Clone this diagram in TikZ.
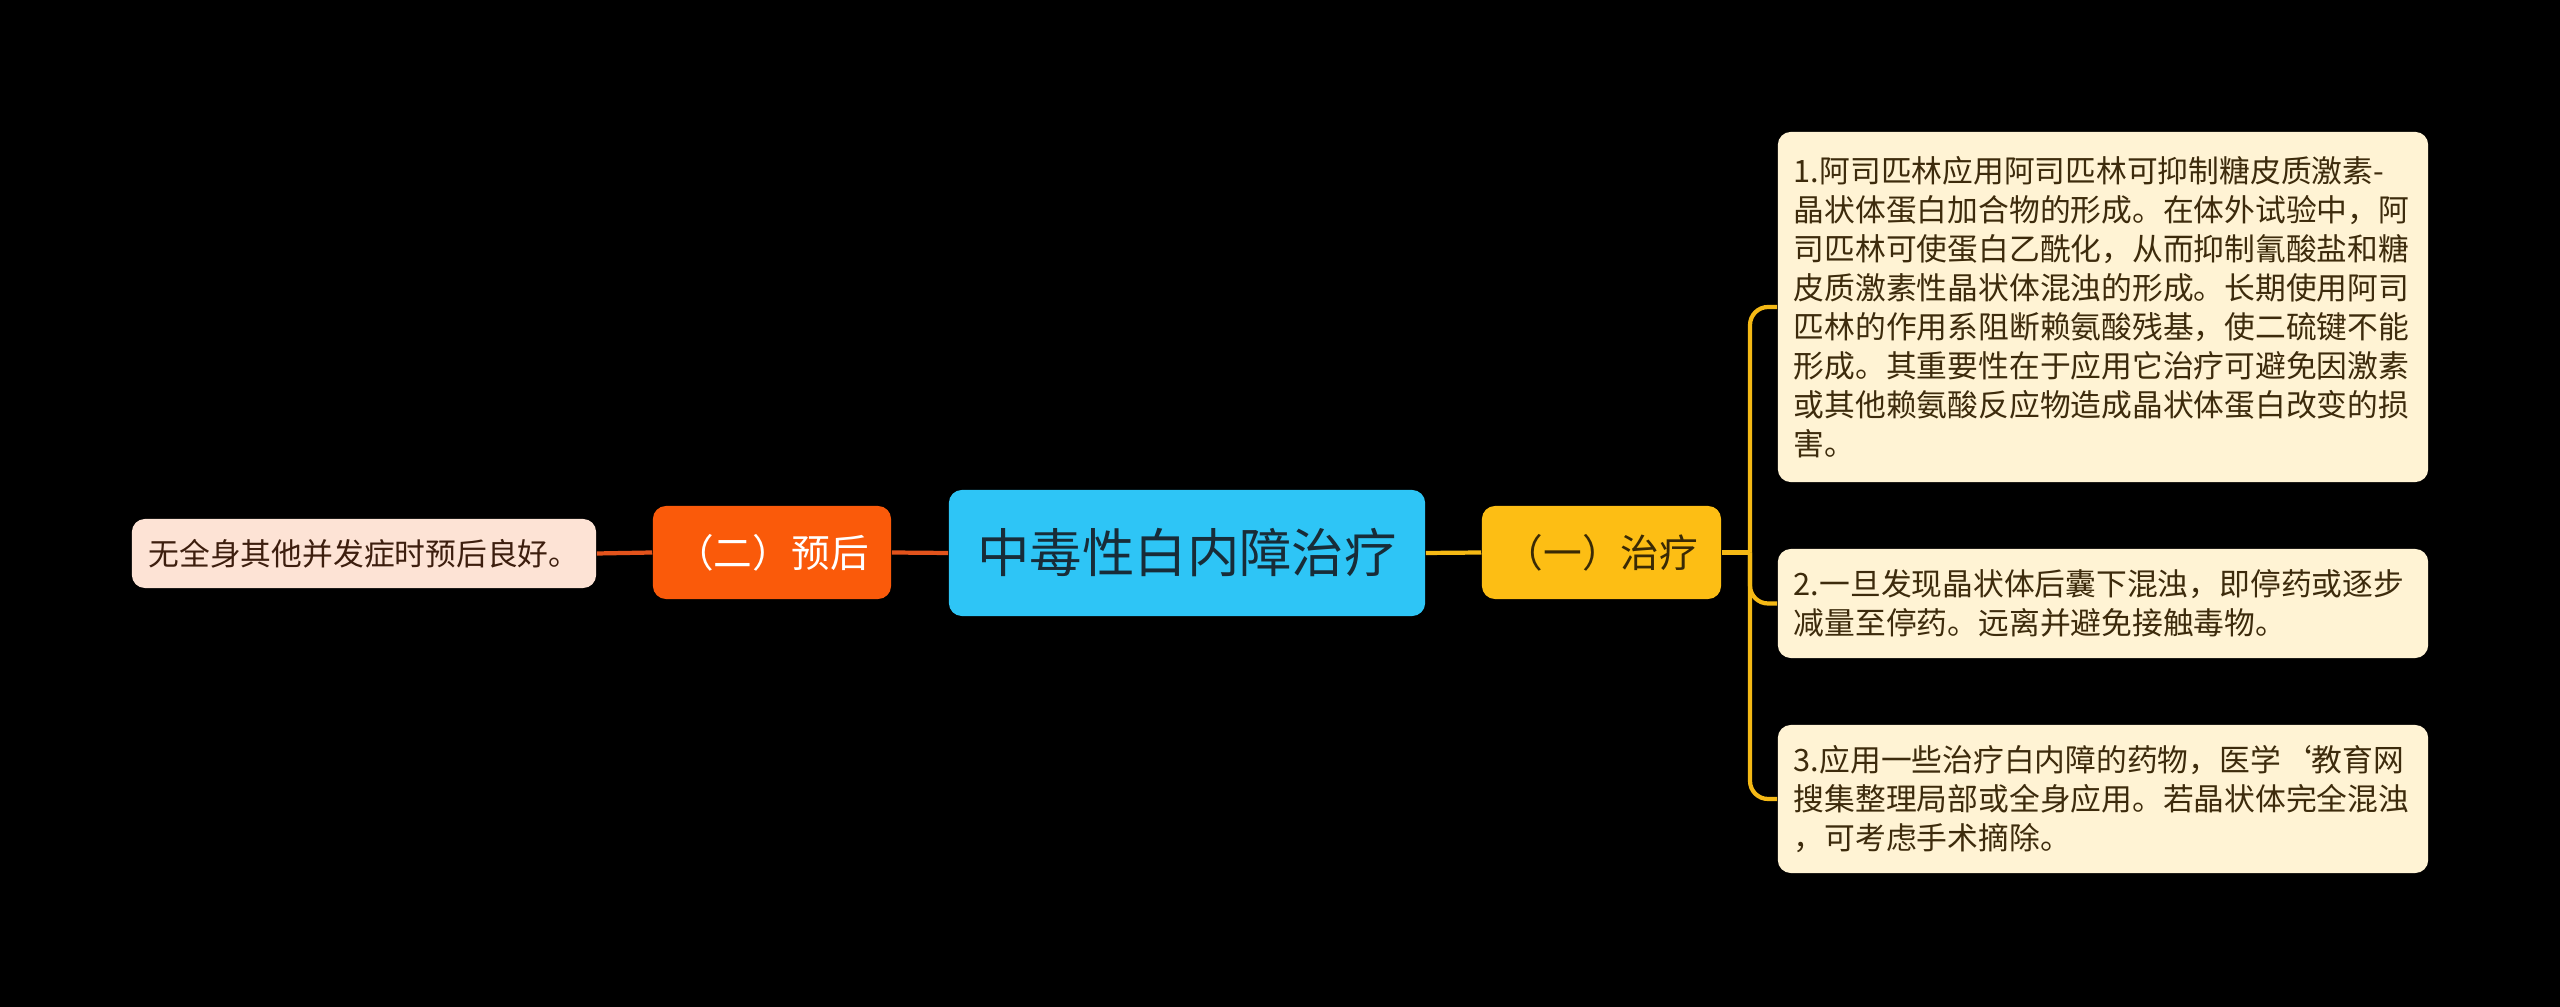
\documentclass[tikz,border=0pt]{standalone}
\usepackage{fontspec}
\setmainfont{Noto Sans CJK SC}
\usepackage{tikz}
\usetikzlibrary{positioning}
\definecolor{bgdark}{RGB}{0,0,0}
\definecolor{rootfill}{RGB}{46,197,246}
\definecolor{roottext}{RGB}{24,44,56}
\definecolor{progfill}{RGB}{250,90,10}
\definecolor{treatfill}{RGB}{253,190,20}
\definecolor{treattext}{RGB}{58,42,5}
\definecolor{leaffill}{RGB}{255,243,212}
\definecolor{leaftext}{RGB}{61,43,12}
\definecolor{peachfill}{RGB}{253,227,213}
\definecolor{peachtext}{RGB}{61,30,14}
\definecolor{progline}{RGB}{226,83,28}
\definecolor{treatline}{RGB}{245,185,21}
\tikzset{
  % Tugun qutilari
  box/.style       = {rounded corners=0.13cm, inner sep=0pt, align=center},
  rootbox/.style   = {box, fill=rootfill, text=roottext,
                      minimum width=4.76cm, minimum height=1.26cm,
                      font=\fontsize{14.9}{18}\selectfont},
  progbox/.style   = {box, fill=progfill, text=white,
                      minimum width=2.38cm, minimum height=0.93cm,
                      font=\fontsize{11}{13}\selectfont},
  treatbox/.style  = {box, fill=treatfill, text=treattext,
                      minimum width=2.39cm, minimum height=0.93cm,
                      font=\fontsize{11}{13}\selectfont},
  % Barglar
  leafbox/.style   = {rounded corners=0.13cm, fill=leaffill, text=leaftext,
                      align=left, text width=6.18cm, inner xsep=0.16cm,
                      inner ysep=0pt, minimum width=6.5cm,
                      font=\fontsize{8.75}{11.1}\selectfont},
  peachbox/.style  = {box, fill=peachfill, text=peachtext,
                      minimum width=4.64cm, minimum height=0.69cm,
                      font=\fontsize{8.75}{11}\selectfont},
  % Ulagichlar
  progwire/.style  = {draw=progline, line width=1.2pt},
  treatwire/.style = {draw=treatline, line width=1.2pt, rounded corners=0.18cm},
}
\begin{document}
\begin{tikzpicture}[x=0.01cm, y=-0.01cm]
  % Fon
  \fill[bgdark] (0,0) rectangle (2560,1007);
  \useasboundingbox (0,0) rectangle (2560,1007);
  % Markaziy tugun va shoxlar
  \node[rootbox] (root) at (1187,553) {中毒性白内障治疗};
  \node[progbox] (prog) at (772,552.5) {（二）预后};
  \node[treatbox] (treat) at (1601.5,552.5) {（一）治疗};
  % Chap barg
  \node[peachbox] (progleaf) at (364,553.5) {无全身其他并发症时预后良好。};
  % O'ng barglar
  \node[leafbox, minimum height=3.5cm] (leafA) at (2103,307)
    {1.阿司匹林应用阿司匹林可抑制糖皮质激素-\\
     晶状体蛋白加合物的形成。在体外试验中，阿\\
     司匹林可使蛋白乙酰化，从而抑制氰酸盐和糖\\
     皮质激素性晶状体混浊的形成。长期使用阿司\\
     匹林的作用系阻断赖氨酸残基，使二硫键不能\\
     形成。其重要性在于应用它治疗可避免因激素\\
     或其他赖氨酸反应物造成晶状体蛋白改变的损\\
     害。};
  \node[leafbox, minimum height=1.09cm] (leafB) at (2103,603.5)
    {2.一旦发现晶状体后囊下混浊，即停药或逐步\\
     减量至停药。远离并避免接触毒物。};
  \node[leafbox, minimum height=1.48cm] (leafC) at (2103,799)
    {3.应用一些治疗白内障的药物，医学\symbol{96}教育网\\
     搜集整理局部或全身应用。若晶状体完全混浊\\
     ，可考虑手术摘除。};
  % Ulagichlar
  \draw[progwire] (root.west) -- (prog.east);
  \draw[progwire] (prog.west) -- (progleaf.east);
  \draw[treatwire] (root.east) -- (treat.west);
  \coordinate (fork) at (1750,552.5);
  \draw[treatwire] (treat.east) -- (fork);
  \draw[treatwire] (fork) |- (leafA.west);
  \draw[treatwire] (fork) |- (leafB.west);
  \draw[treatwire] (fork) |- (leafC.west);
\end{tikzpicture}
\end{document}
